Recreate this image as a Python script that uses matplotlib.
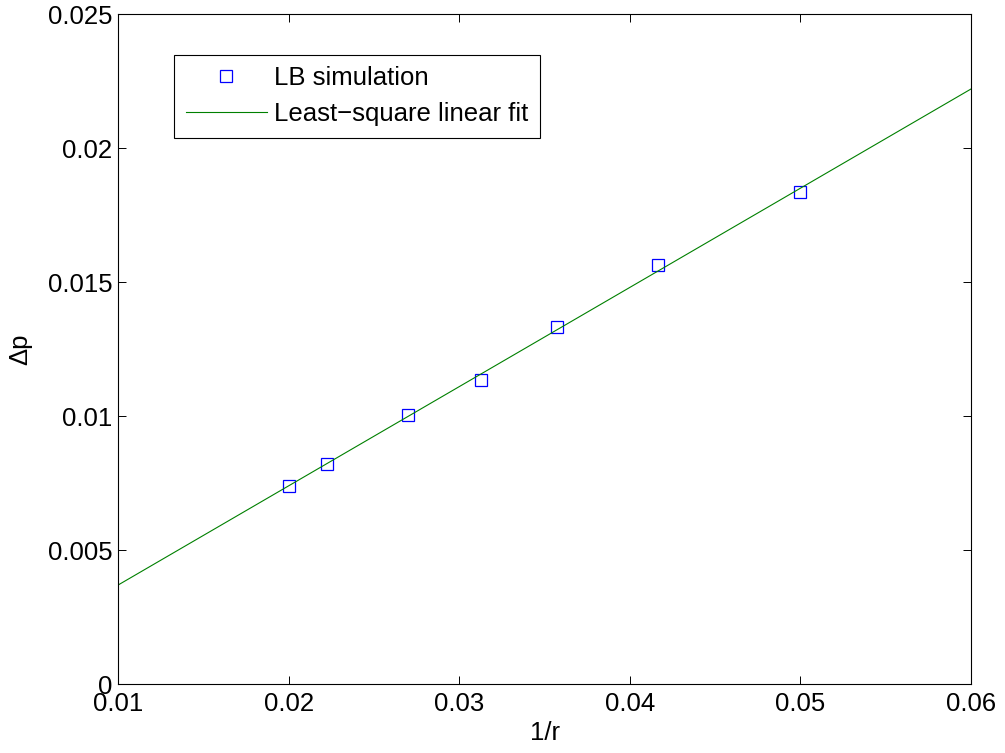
import numpy as np
import matplotlib
matplotlib.use("Agg")
import matplotlib.pyplot as plt

plt.rcParams['font.family'] = ['Liberation Sans', 'DejaVu Sans']

# LB simulation: pressure jump versus inverse droplet radius
inv_r = [1/50, 1/45, 1/37, 1/32, 1/28, 1/24, 1/20]
delta_p = [0.00739, 0.00821, 0.01004, 0.01134, 0.01332, 0.01563, 0.01836]

x_ticks = [0.01, 0.02, 0.03, 0.04, 0.05, 0.06]
y_ticks = [0, 0.005, 0.01, 0.015, 0.02, 0.025]
x_tick_labels = ['0.01', '0.02', '0.03', '0.04', '0.05', '0.06']
y_tick_labels = ['0', '0.005', '0.01', '0.015', '0.02', '0.025']

slope, intercept = np.polyfit(inv_r, delta_p, 1)
x_fit = np.linspace(0.01, 0.06, 200)
y_fit = slope * x_fit + intercept

FS = 18.5

fig = plt.figure(figsize=(10.05, 7.53), dpi=100)
ax = fig.add_axes([0.1174, 0.0916, 0.8488, 0.8898])

ax.plot(inv_r, delta_p, linestyle='none', marker='s', markersize=9,
        markerfacecolor='none', markeredgecolor=(0, 0, 1), markeredgewidth=0.9,
        label='LB simulation')
ax.plot(x_fit, y_fit, color=(0, 0.5, 0), linewidth=0.8,
        label='Least\u2212square linear fit')

ax.set_xlim(0.01, 0.06)
ax.set_ylim(0, 0.025)
ax.set_xticks(x_ticks)
ax.set_xticklabels(x_tick_labels)
ax.set_yticks(y_ticks)
ax.set_yticklabels(y_tick_labels)
ax.tick_params(direction='in', length=6, width=0.7, top=True, right=True,
               labelsize=FS)
ax.tick_params(axis='x', pad=6)
ax.tick_params(axis='y', pad=4)
for s in ax.spines.values():
    s.set_linewidth(0.8)

ax.set_xlabel('1/r', fontsize=FS, labelpad=3)
ax.set_ylabel('\u0394p', fontsize=FS, labelpad=11)

leg = ax.legend(loc='upper left', bbox_to_anchor=(0.0657, 0.939),
                borderaxespad=0, fancybox=False, framealpha=1,
                edgecolor='black', fontsize=FS, handlelength=3.15,
                borderpad=0.45, labelspacing=0.45, handletextpad=0.3)
leg.get_frame().set_linewidth(0.8)

fig.savefig('out.png', dpi=100)
